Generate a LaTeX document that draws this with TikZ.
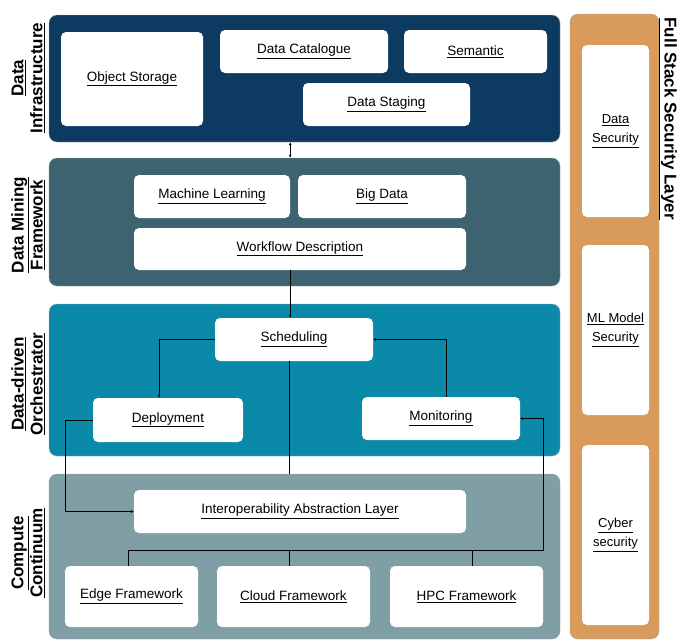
\documentclass[tikz,border=0pt]{standalone}
\usepackage{fontspec}
\setmainfont{Liberation Sans}
\usetikzlibrary{positioning, arrows.meta, calc}

\definecolor{infrablue}{RGB}{12,58,97}
\definecolor{miningteal}{RGB}{60,99,111}
\definecolor{orchcyan}{RGB}{10,138,168}
\definecolor{compgrey}{RGB}{128,159,165}
\definecolor{secorange}{RGB}{216,155,92}

\begin{document}
\begin{tikzpicture}[x=1pt, y=-1pt,
  font=\fontsize{13.5}{16}\selectfont,
  sz/.style 2 args={minimum width=#1pt, minimum height=#2pt},
  panel/.style={draw=gray!70, rounded corners=8pt, inner sep=0pt},
  inbox/.style={fill=white, rounded corners=5pt, align=center, inner sep=0pt},
  sidelabel/.style={font=\bfseries\fontsize{17}{19}\selectfont, align=center},
  link/.style={line width=0.6pt},
  >={Latex[length=3pt, width=3pt]}]
  \useasboundingbox[fill=white] (0,0) rectangle (681,640);

  % layer panels
  \node[panel, fill=infrablue,  sz={511}{127}] (infra)  at (304.5,78.5) {};
  \node[panel, fill=miningteal, sz={511}{128}] (mining) at (304.5,222) {};
  \node[panel, fill=orchcyan,   sz={511}{152}] (orch)   at (304.5,380) {};
  \node[panel, fill=compgrey,   sz={511}{165}] (comp)   at (304.5,556.5) {};
  \node[panel, fill=secorange,  sz={89}{625}]  (sec)    at (614.5,326.5) {};

  % layer names
  \node[sidelabel, rotate=90] (infralbl)  at (28,78)  {\underline{Data}\\\underline{Infrastructure}};
  \node[sidelabel, rotate=90] (mininglbl) at (28,225) {\underline{Data Mining}\\\underline{Framework}};
  \node[sidelabel, rotate=90] (orchlbl)   at (28,384) {\underline{Data-driven}\\\underline{Orchestrator}};
  \node[sidelabel, rotate=90] (complbl)   at (28,553) {\underline{Compute}\\\underline{Continuum}};
  \node[sidelabel, rotate=-90, anchor=west] (seclbl) at (668,14) {\underline{Full Stack Security Layer}};

  % data infrastructure
  \node[inbox, sz={142}{94}] (objst)    at (132,79)     {\underline{Object Storage}};
  \node[inbox, sz={168}{43}] (datacat)  at (304,51.5)   {\underline{Data Catalogue}};
  \node[inbox, sz={143}{43}] (semantic) at (475.5,51.5) {\underline{Semantic}};
  \node[inbox, sz={167}{43}] (staging)  at (386.5,104.5) {\underline{Data Staging}};

  % data mining framework
  \node[inbox, sz={156}{43}] (ml)       at (212,196.5) {\underline{Machine Learning}};
  \node[inbox, sz={168}{43}] (bigdata)  at (382,196.5) {\underline{Big Data}};
  \node[inbox, sz={332}{42}] (workflow) at (300,249)   {\underline{Workflow Description}};

  % orchestrator
  \node[inbox, sz={158}{43}] (sched)   at (294,339.5) {\underline{Scheduling}};
  \node[inbox, sz={150}{44}] (deploy)  at (168,420)   {\underline{Deployment}};
  \node[inbox, sz={158}{43}] (monitor) at (441,418.5) {\underline{Monitoring}};

  % compute continuum
  \node[inbox, sz={332}{43}] (interop) at (300,511.5)   {\underline{Interoperability Abstraction Layer}};
  \node[inbox, sz={133}{61}] (edge)    at (131.5,596.5) {\underline{Edge Framework}};
  \node[inbox, sz={153}{61}] (cloud)   at (293.5,596.5) {\underline{Cloud Framework}};
  \node[inbox, sz={153}{61}] (hpc)     at (466.5,596.5) {\underline{HPC Framework}};

  % security column
  \node[inbox, sz={67}{172}, font=\fontsize{13}{19}\selectfont] (datasec)  at (615.5,131) {\underline{Data}\\\underline{Security}};
  \node[inbox, sz={67}{170}, font=\fontsize{13}{19}\selectfont] (mlsec)    at (615.5,330) {\underline{ML Model}\\\underline{Security}};
  \node[inbox, sz={67}{180}, font=\fontsize{13}{19}\selectfont] (cybersec) at (615.5,535) {\underline{Cyber}\\\underline{security}};

  \coordinate (bus) at (0,550);

  % connectors
  \draw[link, <->] (infra.south -| ml.east) -- (mining.north -| ml.east);
  \draw[link, ->] (workflow.south -| ml.east) -- (sched.north -| ml.east);
  \draw[link, ->] (sched.west) -| ([xshift=-9pt]deploy.north);
  \draw[link, ->] ([xshift=5pt]monitor.north) |- (sched.east);
  \draw[link] ([xshift=-5pt]sched.south) -- ([xshift=-5pt]sched.south |- comp.north);
  \draw[link, ->] (deploy.west) -- ++(-28,0) |- (interop.west);
  \draw[link, ->] ([xshift=-3.5pt]edge.north) -- ([xshift=-3.5pt]edge.north |- bus)
    -- (bus -| hpc.east) |- (monitor.east);
  \draw[link] ([xshift=-4.5pt]cloud.north) -- ([xshift=-4.5pt]cloud.north |- bus);
  \draw[link] ([xshift=5.5pt]hpc.north) -- ([xshift=5.5pt]hpc.north |- bus);
\end{tikzpicture}
\end{document}
